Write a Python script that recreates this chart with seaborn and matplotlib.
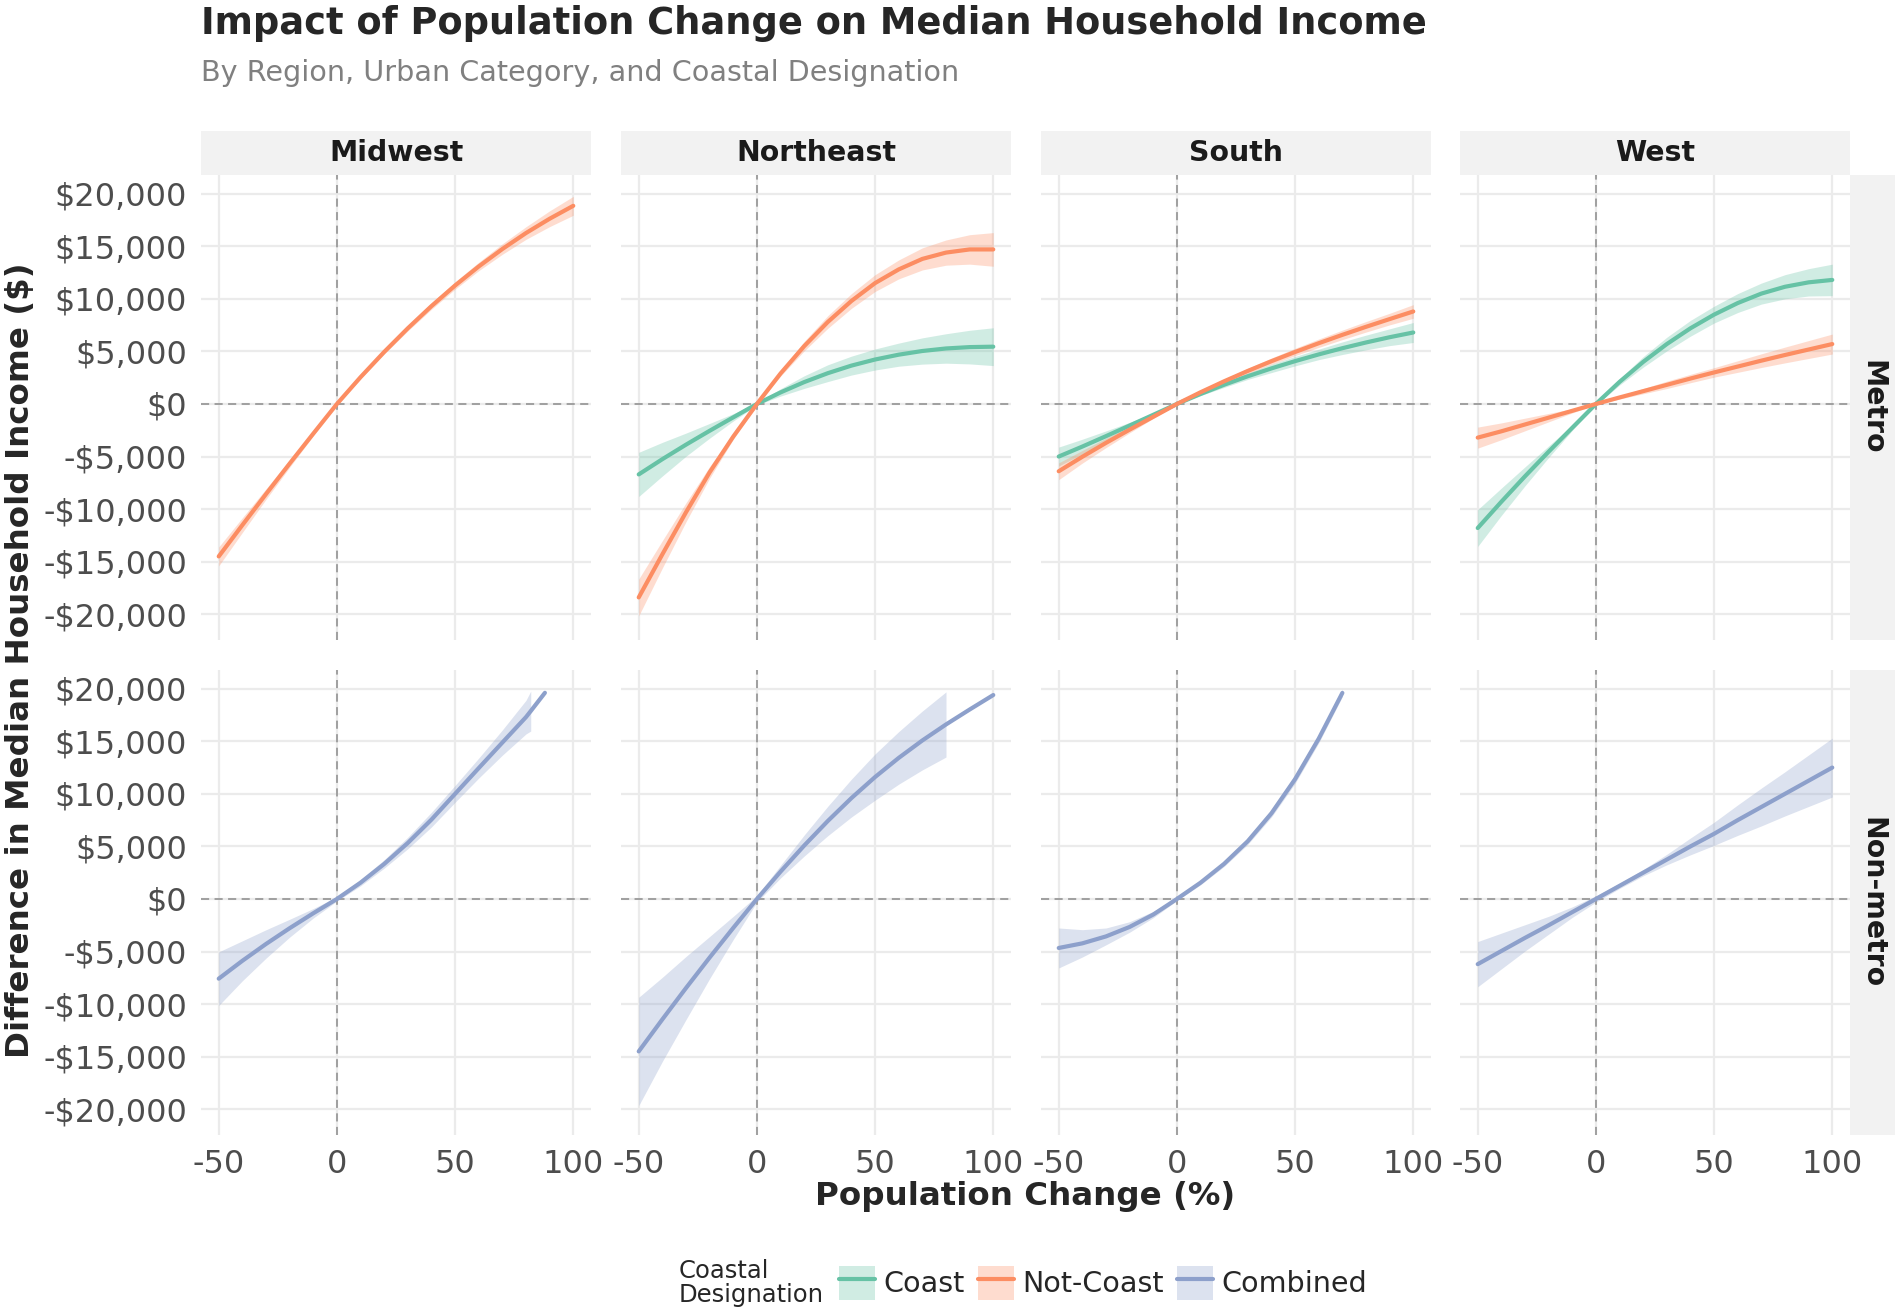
import numpy as np
import pandas as pd
import matplotlib
matplotlib.use('Agg')
import matplotlib.pyplot as plt
from matplotlib.patches import Rectangle, Patch
from matplotlib.lines import Line2D
import seaborn as sns

# Categories
regions = ['Midwest', 'Northeast', 'South', 'West']
urban = ['Metro', 'Non-metro']
groups = ['Coast', 'Not-Coast', 'Combined']
palette = {'Coast': '#66C2A5', 'Not-Coast': '#FC8D62', 'Combined': '#8DA0CB'}

# Population change (%) grid
pop = [-50, -40, -30, -20, -10, 0, 10, 20, 30, 40, 50, 60, 70, 80, 90, 100]

# Metro panels: fitted difference ($) and half-width of the band
mw_metro_nc = [-14500, -11520, -8570, -5670, -2820, 0, 2550, 4950, 7200, 9310, 11270, 13080, 14740, 16260, 17620, 18850]
mw_metro_nc_se = [900, 700, 500, 350, 200, 100, 150, 200, 250, 300, 350, 400, 500, 600, 750, 900]

ne_metro_c = [-6700, -5250, -3870, -2550, -1270, 0, 1100, 2080, 2930, 3650, 4230, 4690, 5040, 5280, 5410, 5450]
ne_metro_c_se = [2100, 1600, 1100, 700, 350, 100, 350, 600, 800, 900, 1000, 1100, 1250, 1400, 1600, 1800]
ne_metro_nc = [-18400, -14300, -10300, -6500, -3100, 0, 2900, 5500, 7800, 9800, 11500, 12800, 13800, 14400, 14700, 14700]
ne_metro_nc_se = [1750, 1300, 900, 550, 250, 100, 250, 450, 600, 700, 800, 900, 1050, 1200, 1400, 1600]

s_metro_c = [-5000, -4050, -3060, -2050, -1030, 0, 950, 1830, 2640, 3385, 4075, 4715, 5305, 5850, 6350, 6800]
s_metro_c_se = [900, 700, 500, 300, 150, 50, 150, 250, 300, 400, 450, 500, 600, 700, 800, 950]
s_metro_nc = [-6400, -5020, -3700, -2440, -1220, 0, 1115, 2160, 3145, 4070, 4945, 5780, 6575, 7340, 8075, 8800]
s_metro_nc_se = [800, 600, 450, 300, 150, 50, 120, 200, 250, 300, 350, 400, 450, 500, 550, 650]

w_metro_c = [-11800, -9300, -6880, -4540, -2260, 0, 2100, 4000, 5700, 7200, 8500, 9600, 10500, 11150, 11570, 11800]
w_metro_c_se = [1750, 1300, 900, 550, 250, 100, 300, 500, 650, 750, 800, 900, 1000, 1150, 1300, 1500]
w_metro_nc = [-3200, -2600, -1950, -1300, -650, 0, 620, 1220, 1820, 2420, 3000, 3560, 4120, 4660, 5180, 5700]
w_metro_nc_se = [1000, 800, 600, 400, 200, 50, 150, 250, 350, 400, 450, 550, 650, 750, 850, 950]

# Non-metro panels (combined); bands past the $20,000 limit are dropped
mw_nm_pop = [-50, -40, -30, -20, -10, 0, 10, 20, 30, 40, 50, 60, 70, 80, 82, 88]
mw_nm = [-7580, -5880, -4280, -2780, -1360, 0, 1550, 3330, 5330, 7550, 10000, 12450, 14880, 17300, 17870, 19610]
mw_nm_se = [2550, 1900, 1350, 850, 450, 200, 300, 400, 550, 700, 800, 950, 1200, 1600, 1900, np.nan]

ne_nm = [-14500, -11450, -8470, -5570, -2750, 0, 2600, 5080, 7420, 9600, 11600, 13420, 15080, 16600, 18020, 19400]
ne_nm_se = [5150, 4000, 3000, 2000, 1100, 300, 600, 1000, 1400, 1800, 2200, 2500, 2800, 3100, np.nan, np.nan]

s_nm_pop = [-50, -40, -30, -20, -10, 0, 10, 20, 30, 40, 50, 60, 70]
s_nm = [-4660, -4220, -3560, -2660, -1480, 0, 1550, 3350, 5500, 8150, 11400, 15250, 19600]
s_nm_se = [1900, 1300, 800, 500, 300, 150, 200, 250, 300, 350, 400, 400, 350]

w_nm = [-6200, -4950, -3700, -2500, -1250, 0, 1250, 2500, 3750, 5000, 6200, 7500, 8750, 10000, 11250, 12500]
w_nm_se = [2150, 1700, 1250, 850, 500, 300, 250, 300, 500, 800, 1100, 1450, 1800, 2100, 2450, 2800]

# Axis ticks
x_ticks = [-50, 0, 50, 100]
x_labels = ['-50', '0', '50', '100']
y_ticks = [20000, 15000, 10000, 5000, 0, -5000, -10000, -15000, -20000]
y_labels = ['$20,000', '$15,000', '$10,000', '$5,000', '$0', '-$5,000', '-$10,000', '-$15,000', '-$20,000']

series = [
    ('Midwest', 'Metro', 'Not-Coast', pop, mw_metro_nc, mw_metro_nc_se),
    ('Northeast', 'Metro', 'Coast', pop, ne_metro_c, ne_metro_c_se),
    ('Northeast', 'Metro', 'Not-Coast', pop, ne_metro_nc, ne_metro_nc_se),
    ('South', 'Metro', 'Coast', pop, s_metro_c, s_metro_c_se),
    ('South', 'Metro', 'Not-Coast', pop, s_metro_nc, s_metro_nc_se),
    ('West', 'Metro', 'Coast', pop, w_metro_c, w_metro_c_se),
    ('West', 'Metro', 'Not-Coast', pop, w_metro_nc, w_metro_nc_se),
    ('Midwest', 'Non-metro', 'Combined', mw_nm_pop, mw_nm, mw_nm_se),
    ('Northeast', 'Non-metro', 'Combined', pop, ne_nm, ne_nm_se),
    ('South', 'Non-metro', 'Combined', s_nm_pop, s_nm, s_nm_se),
    ('West', 'Non-metro', 'Combined', pop, w_nm, w_nm_se),
]

rows = []
for region, cat, grp, xs, ys, ses in series:
    for xv, yv, sv in zip(xs, ys, ses):
        rows.append((region, cat, grp, xv, yv, sv))
df = pd.DataFrame(rows, columns=['region', 'urban', 'group', 'pop', 'diff', 'se'])
df['lo'] = df['diff'] - df['se']
df['hi'] = df['diff'] + df['se']

sns.set_style('white')
plt.rcParams['font.family'] = ['DejaVu Sans']

W, H = 1902, 1316
fig = plt.figure(figsize=(W / 100, H / 100), dpi=100)

col_left = [201, 621, 1041, 1460]
row_top = [175, 670]
pw, ph = 390, 465
strip_h = 44
strip_bg = '#F2F2F2'
tick_color = '#4D4D4D'

for i, cat in enumerate(urban):
    for j, region in enumerate(regions):
        ax = fig.add_axes([col_left[j] / W, 1 - (row_top[i] + ph) / H, pw / W, ph / H])
        sub = df[(df['region'] == region) & (df['urban'] == cat)]
        for grp, gd in sub.groupby('group', sort=False):
            ax.fill_between(gd['pop'], gd['lo'], gd['hi'], color=palette[grp],
                            alpha=0.3, linewidth=0, zorder=1)
        ax.axhline(0, color='#9A9A9A', lw=1.3, linestyle=(0, (4.5, 3)), zorder=1.5)
        ax.axvline(0, color='#9A9A9A', lw=1.3, linestyle=(0, (4.5, 3)), zorder=1.5)
        sns.lineplot(data=sub, x='pop', y='diff', hue='group', palette=palette,
                     estimator=None, linewidth=3.0, legend=False, ax=ax, zorder=3)
        ax.set_xlim(-57.5, 107.5)
        ax.set_ylim(-22450, 21780)
        ax.set_xticks(x_ticks)
        ax.set_yticks(y_ticks)
        ax.grid(True, color='#EBEBEB', lw=1.6)
        ax.set_axisbelow(True)
        for s in ax.spines.values():
            s.set_visible(False)
        ax.tick_params(length=0, labelsize=23, labelcolor=tick_color, pad=10)
        ax.set_yticklabels(y_labels if j == 0 else [])
        ax.set_xticklabels(x_labels if i == 1 else [])
        ax.set_xlabel('')
        ax.set_ylabel('')

# Facet strips
for j, region in enumerate(regions):
    fig.add_artist(Rectangle((col_left[j] / W, 1 - (row_top[0]) / H), pw / W, strip_h / H,
                             transform=fig.transFigure, facecolor=strip_bg, edgecolor='none'))
    fig.text((col_left[j] + pw / 2) / W, 1 - (row_top[0] - strip_h / 2) / H, region,
             ha='center', va='center', fontsize=20.4, fontweight='bold', color='#1A1A1A')
for i, cat in enumerate(urban):
    fig.add_artist(Rectangle((1850 / W, 1 - (row_top[i] + ph) / H), 45 / W, ph / H,
                             transform=fig.transFigure, facecolor=strip_bg, edgecolor='none'))
    fig.text(1872 / W, 1 - (row_top[i] + ph / 2) / H, cat, ha='center', va='center',
             rotation=270, fontsize=20.4, fontweight='bold', color='#1A1A1A')

# Titles
fig.text(201 / W, 1 - 34 / H, 'Impact of Population Change on Median Household Income',
         fontsize=26.5, fontweight='bold', va='baseline', ha='left')
fig.text(201 / W, 1 - 81 / H, 'By Region, Urban Category, and Coastal Designation',
         fontsize=20.6, color='#808080', va='baseline', ha='left')
fig.text(1025 / W, 1 - 1196 / H, 'Population Change (%)', ha='center', va='center',
         fontsize=23.4, fontweight='bold')
fig.text(21 / W, 1 - 660 / H, 'Difference in Median Household Income ($)', ha='center',
         va='center', rotation=90, fontsize=23.4, fontweight='bold')

# Legend
handles = [(Patch(facecolor=palette[g], alpha=0.3, edgecolor='none'),
            Line2D([], [], color=palette[g], lw=3.0)) for g in groups]
fig.legend(handles, groups, loc='center left', bbox_to_anchor=(839 / W, 1 - 1283 / H),
           ncol=3, frameon=False, fontsize=20.6, handlelength=1.26, handleheight=1.47,
           handletextpad=0.3, columnspacing=0.45, borderpad=0, borderaxespad=0)
fig.text(679 / W, 1 - 1283 / H, 'Coastal\nDesignation', ha='left', va='center',
         fontsize=17.5, linespacing=0.95)

fig.savefig('out.png', dpi=100)
